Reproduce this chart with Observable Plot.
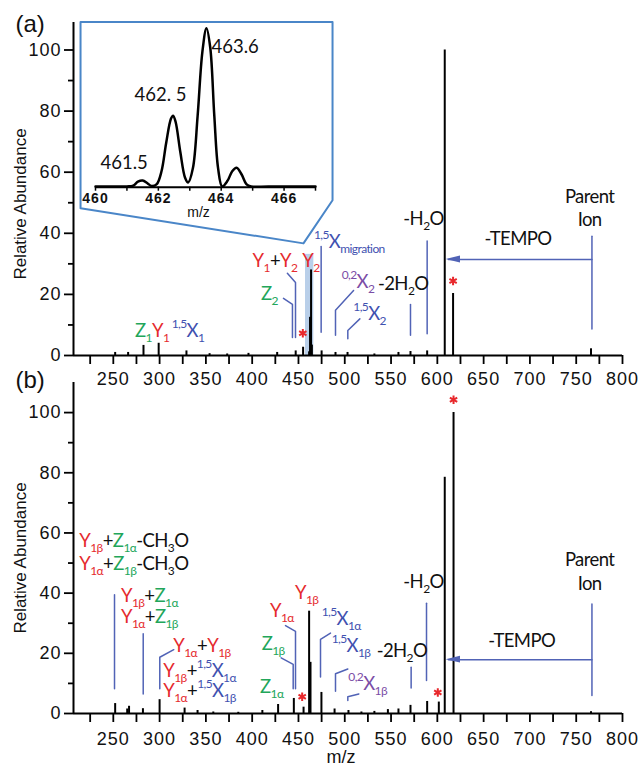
<!DOCTYPE html>
<html><head><meta charset="utf-8">
<script src="https://cdn.jsdelivr.net/npm/d3@7"></script>
<script src="https://cdn.jsdelivr.net/npm/@observablehq/plot@0.6"></script>
<style>
body{margin:0;background:#fff;}
#wrap{position:relative;width:641px;height:767px;overflow:hidden;background:#fff;}
#wrap svg{position:absolute;}
#wrap g[aria-label="x-axis tick label"] text,#wrap g[aria-label="y-axis tick label"] text{letter-spacing:1px;}
</style></head><body><div id="wrap"></div>
<script>
// ---------- data ----------
const xTicks = [225,250,275,300,325,350,375,400,425,450,475,500,525,550,575,600,625,650,675,700,725,750,775,800];
const xTickLabels = [250,300,350,400,450,500,550,600,650,700,750,800];
const yTicks = [0,20,40,60,80,100];
const yMinorTicks = [10,30,50,70,90];

// panel (a) spectrum
const mzA = [252,266,282.6,299,329,354,373,396,427,447,455,461.5,462.5,463.6,464.5,475,490,503,532,558,571,589,608,617,766];
const abA = [1,1,3.3,4,1.5,0.6,0.5,0.7,1,1.5,2.7,1.2,12.5,28,3.4,1.5,1,1,0.5,1,1.3,1.5,100,20.3,2.2];
// panel (b) spectrum
const mzB = [252,265,267,282,300,327,341,358,385,411,428,445,455.5,461.5,463,474.8,489,504,518,532,546.6,558,571,589,601.6,608,617.5,766];
const abB = [3.3,1.5,2.4,1.6,4.6,1.8,1,0.5,0.4,1,3,5,2.1,34,17,7,1.5,1,0.5,0.7,1.3,1.5,2.7,4,3.8,78.5,100,0.6];

// inset isotope profile (m/z, relative intensity)
const insetMz = [460.0,461.0,461.2,461.35,461.5,461.65,461.78,461.95,462.1,462.25,462.4,462.47,462.55,462.7,462.85,462.95,463.1,463.25,463.4,463.53,463.65,463.78,463.9,464.03,464.2,464.35,464.49,464.65,464.8,464.95,465.5,467.0];
const insetAb = [0.5,0.5,1,3.5,4.2,2.5,0.8,2,10,28,43,45,41,22,6,3,12,45,85,100,88,45,12,0.5,4,10,12.2,8,2,0.5,0.5,0.5];
const insetTicks = [460,461,462,463,464,465,466,467];
const insetTickLabels = [460,462,464,466];
const insetLabelText = ["463.6","462. 5","461.5"];
const insetLabelMz = [463.69,461.24,460.16];
const insetLabelAb = [88,57.7,14.9];

// star markers
const starsA = [[617,24.4],[454.7,7.3]];
const starsB = [[617.5,104.3],[600.5,7.0],[454,5.6]];

// annotation labels: code = color + (':' normal | '_' sub | '^' sup) + text
const labelsA = [
  {x:274.0,y:5.9,t:"g:Z|g_1|r:Y|r_1|b^ 1,5|b:X|b_1"},
  {x:401,y:28.7,t:"r:Y|r_1|k:+|r:Y|r_2"},
  {x:410.1,y:18.0,t:"g:Z|g_2"},
  {x:454.7,y:28.7,t:"r:Y|r_2"},
  {x:467.3,y:35.0,t:"b^1,5|b:X|b_migration"},
  {x:497.2,y:22.0,t:"p^0,2|p:X|p_2"},
  {x:536.4,y:21.3,t:"k:-2H|k_2|k:O"},
  {x:509.8,y:11.5,t:"b^1,5|b:X|b_2"},
  {x:563.8,y:42.6,t:"k:-H|k_2|k:O"},
  {x:687.7,y:36.1,t:"k:-TEMPO",anchor:"middle"},
  {x:765,y:49.7,t:"k:Parent",anchor:"middle"},
  {x:765,y:42.1,t:"k:Ion",anchor:"middle"}
];
const labelsB = [
  {x:213.8,y:55.2,t:"r:Y|r_1β|k:+|g:Z|g_1α|k:-CH|k_3|k:O"},
  {x:213.8,y:47.5,t:"r:Y|r_1α|k:+|g:Z|g_1β|k:-CH|k_3|k:O"},
  {x:258.8,y:37.0,t:"r:Y|r_1β|k:+|g:Z|g_1α"},
  {x:258.8,y:29.8,t:"r:Y|r_1α|k:+|g:Z|g_1β"},
  {x:315.3,y:20.4,t:"r:Y|r_1α|k:+|r:Y|r_1β"},
  {x:304.5,y:12.1,t:"r:Y|r_1β|k:+|b^1,5|b:X|b_1α"},
  {x:304.5,y:5.4,t:"r:Y|r_1α|k:+|b^1,5|b:X|b_1β"},
  {x:410.8,y:20.9,t:"g:Z|g_1β"},
  {x:409,y:6.5,t:"g:Z|g_1α"},
  {x:419.8,y:32.0,t:"r:Y|r_1α"},
  {x:446.8,y:37.8,t:"r:Y|r_1β"},
  {x:475.6,y:29.2,t:"b^1,5|b:X|b_1α"},
  {x:486.4,y:20.4,t:"b^1,5|b:X|b_1β"},
  {x:504.4,y:7.6,t:"p^0,2|p:X|p_1β"},
  {x:535.0,y:18.5,t:"k:-2H|k_2|k:O"},
  {x:563.8,y:41.4,t:"k:-H|k_2|k:O"},
  {x:691.7,y:21.8,t:"k:-TEMPO",anchor:"middle"},
  {x:765,y:48.8,t:"k:Parent",anchor:"middle"},
  {x:765,y:40.9,t:"k:Ion",anchor:"middle"}
];

// leader lines (polylines in m/z, abundance)
const leadersA = [
  [[433.8,18.7],[443.5,16.7],[443.5,5.9]],
  [[438,26.9],[446.8,23.9],[446.8,5.9]],
  [[474.5,35.7],[474.5,7.6]],
  [[509.5,21.3],[490,14.8],[490,6.6]],
  [[516.3,12.0],[503.3,8.2],[503.3,5.5]],
  [[571,16.7],[571,6.6]],
  [[589,37.5],[589,7.1]],
  [[767,39],[767,8.7]],
  [[767,31.4],[612,31.4]]
];
const leadersB = [
  [[251.3,39.5],[251.3,8.2]],
  [[282.3,26.5],[282.3,6.5]],
  [[315.3,21.2],[300.2,18.7],[300.2,8.2]],
  [[436,29.2],[446.8,27.3],[446.8,8.2]],
  [[431.3,18.5],[444.3,16.3],[444.3,8.2]],
  [[484.6,26.7],[473.8,24.6],[473.8,12.1]],
  [[503.3,14.8],[490,13.2],[490,7.4]],
  [[515.2,6.5],[503.3,5.6],[503.3,4.3]],
  [[571.7,15.4],[571.7,8.5]],
  [[588.3,36.6],[588.3,11]],
  [[767,36.4],[767,6]],
  [[767,17.9],[612,17.9]]
];
const arrowA = {tip:609.5, base:625, y:31.4, half:1.15};
const arrowB = {tip:609.5, base:625, y:17.9, half:1.15};
// inset frame outline (m/z, abundance in panel a)
const insetFrame = [[214.6,109.2],[486.8,109.2],[486.8,50.8],[455.4,36.7],[214.6,48.2],[214.6,109.2]];
const highlightA = {x1:457.6,x2:466.6,y1:0,y2:33.1};

// ---------- styles ----------
const COLORS = {r:"#e52a2e",g:"#22a65a",b:"#3f51b0",p:"#7b4da6",k:"#111"};
const LEADER = "#5163b6";
const AXISFONT = "'Liberation Sans', Arial, sans-serif";
const LABFONT = "Lato, 'Open Sans', sans-serif";

const wrap = document.getElementById("wrap");

function toRows(mz, ab){ return mz.map((m,i)=>({mz:m, ab:ab[i]})); }
function leaderRows(L){ const out=[]; L.forEach((pts,i)=>pts.forEach(p=>out.push({x:p[0],y:p[1],id:i}))); return out; }

function addRich(svg, labels){
  const sx = svg.scale("x"), sy = svg.scale("y");
  const g = d3.select(svg).append("g").attr("font-family", LABFONT).style("letter-spacing", "-0.6px");
  for (const it of labels){
    const t = g.append("text").attr("x", sx.apply(it.x)).attr("y", sy.apply(it.y))
      .attr("text-anchor", it.anchor || "start").attr("font-size", 18.5);
    let cur = 0;
    for (const seg of it.t.split("|")){
      const c = seg[0], k = seg[1], s = seg.slice(2);
      const off = k === "_" ? 5 : k === "^" ? -9 : 0;
      const ts = t.append("tspan").attr("fill", COLORS[c]).style("white-space","pre").text(s);
      if (off !== cur) ts.attr("dy", off - cur);
      if (k !== ":") ts.attr("font-size", 12);
      cur = off;
    }
  }
}

function panel(opts){
  const {rows, labels, leaders, arrow, stars, top, height, marginTop, marginBottom, yMax, tickPad, letter, letterDy, ylabDy, extra} = opts;
  const svg = Plot.plot({
    width: 641, height, marginLeft: 73, marginRight: 19, marginTop, marginBottom,
    style: {background: "transparent", overflow: "visible"},
    x: {domain: [207, 800], axis: null},
    y: {domain: [0, yMax], axis: null},
    marks: [
      ...(extra || []),
      Plot.ruleX(rows, {x: "mz", y1: 0, y2: "ab", stroke: "#000", strokeWidth: 2}),
      Plot.line(leaderRows(leaders), {x: "x", y: "y", z: "id", stroke: LEADER, strokeWidth: 1.5}),
      Plot.areaY([{x: arrow.tip, y1: arrow.y, y2: arrow.y}, {x: arrow.base, y1: arrow.y - arrow.half, y2: arrow.y + arrow.half}],
        {x: "x", y1: "y1", y2: "y2", fill: LEADER}),
      Plot.dot(stars, {x: d => d[0], y: d => d[1], symbol: "asterisk", r: 4, stroke: "#e8282c", strokeWidth: 2}),
      Plot.ruleY([0], {stroke: "#000", strokeWidth: 2}),
      Plot.ruleX([207], {y1: 0, y2: yMax, stroke: "#000", strokeWidth: 2}),
      Plot.axisX({ticks: xTicks, tickSize: 9, tickPadding: tickPad, strokeWidth: 1.8, label: null,
        tickFormat: d => xTickLabels.includes(d) ? String(d) : "", fontSize: 18, fontFamily: AXISFONT, fill: "#111"}),
      Plot.axisY({ticks: yTicks, tickSize: 9, tickPadding: 3, strokeWidth: 1.8, label: null,
        fontSize: 18, fontFamily: AXISFONT, fill: "#111"}),
      Plot.axisY({ticks: yMinorTicks, tickSize: 5, strokeWidth: 1.8, label: null, tickFormat: () => ""}),
      Plot.text([letter], {frameAnchor: "top-left", dx: -58, dy: letterDy, textAnchor: "start", lineAnchor: "middle", fontSize: 24, fontFamily: AXISFONT, fill: "#111"}),
      Plot.text(["Relative Abundance"], {frameAnchor: "left", dx: -53, dy: ylabDy, rotate: -90, textAnchor: "middle", lineAnchor: "middle", fontSize: 17, fontFamily: AXISFONT, fill: "#111"})
    ].concat(opts.more || [])
  });
  svg.style.top = top + "px";
  svg.style.left = "0px";
  addRich(svg, labels);
  wrap.appendChild(svg);
  return svg;
}

// panel (a)
panel({
  rows: toRows(mzA, abA), labels: labelsA, leaders: leadersA, arrow: arrowA, stars: starsA,
  top: 0, height: 395, marginTop: 22, marginBottom: 40, yMax: 109, tickPad: 8,
  letter: "(a)", letterDy: 2, ylabDy: 15,
  extra: [
    Plot.rect([highlightA], {x1: "x1", x2: "x2", y1: "y1", y2: "y2", fill: "#b9cfe9"}),
    Plot.line(insetFrame, {x: d => d[0], y: d => d[1], stroke: "#4a86c8", strokeWidth: 2})
  ]
});

// panel (b)
panel({
  rows: toRows(mzB, abB), labels: labelsB, leaders: leadersB, arrow: arrowB, stars: starsB,
  top: 360, height: 407, marginTop: 22, marginBottom: 54, yMax: 110, tickPad: 10,
  letter: "(b)", letterDy: -2, ylabDy: 10,
  more: [Plot.text(["m/z"], {frameAnchor: "bottom", dx: -7, dy: 44, lineAnchor: "middle", fontSize: 18, fontFamily: AXISFONT, fill: "#111"})]
});

// inset
const inset = Plot.plot({
  width: 252, height: 200, marginLeft: 15, marginRight: 17, marginTop: 5.7, marginBottom: 35.3,
  style: {background: "transparent", overflow: "visible"},
  x: {domain: [460, 467], axis: null},
  y: {domain: [0, 100], axis: null},
  marks: [
    Plot.ruleY([0], {stroke: "#000", strokeWidth: 2}),
    Plot.axisX({ticks: insetTicks, tickSize: 4, tickPadding: 1.5, strokeWidth: 1.5, label: null,
      tickFormat: d => insetTickLabels.includes(d) ? String(d) : "", fontSize: 14, fontWeight: "bold", fontFamily: AXISFONT, fill: "#111"}),
    Plot.line(insetMz.map((m, i) => ({mz: m, ab: insetAb[i]})), {x: "mz", y: "ab", curve: "catmull-rom", stroke: "#000", strokeWidth: 2.5}),
    Plot.text(insetLabelText.map((t, i) => ({t, mz: insetLabelMz[i], ab: insetLabelAb[i]})),
      {x: "mz", y: "ab", text: "t", textAnchor: "start", fontSize: 18.5, fontFamily: LABFONT, fill: "#111"}),
    Plot.text(["m/z"], {frameAnchor: "bottom", dx: -7, dy: 25, lineAnchor: "middle", fontSize: 14, fontFamily: AXISFONT, fill: "#111"})
  ]
});
inset.style.left = "80px";
inset.style.top = "22px";
wrap.appendChild(inset);
</script></body></html>
